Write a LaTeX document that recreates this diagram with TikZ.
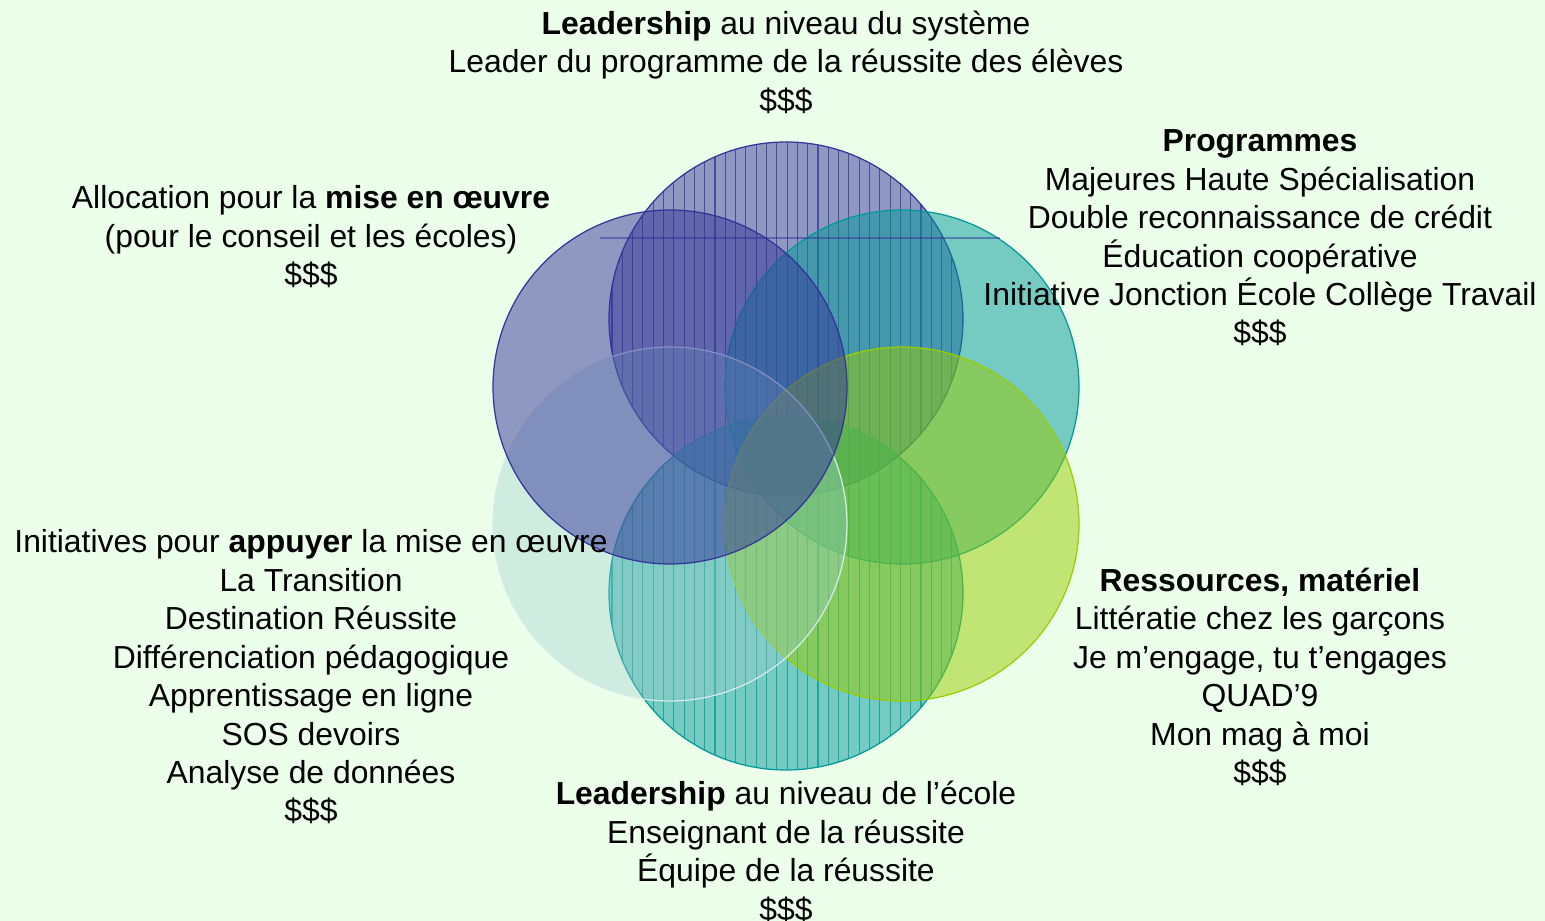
\documentclass[tikz,border=0pt]{standalone}
\usepackage{fontspec}
\setmainfont{Liberation Sans}
\usepackage{tikz}
\usetikzlibrary{positioning}
\definecolor{bgcolor}{RGB}{235,255,235}
\definecolor{blueset}{RGB}{51,51,153}
\definecolor{tealset}{RGB}{0,153,153}
\definecolor{limeset}{RGB}{153,204,0}
\definecolor{paleset}{RGB}{153,204,204}

\begin{document}
\begin{tikzpicture}[x=0.01cm, y=0.01cm,
    blob/.style={fill=#1, fill opacity=0.5, draw=#1, line width=0.35pt},
    stripe/.style={draw=#1, line width=0.3pt, opacity=0.75},
    lbl/.style={align=center, inner sep=0pt, font=\fontsize{9.06}{10.93}\selectfont}]
    \useasboundingbox (0,0) rectangle (1545,921);
    \fill[bgcolor] (0,0) rectangle (1545,921);

    % Circle centres
    \coordinate (ctop) at (786,602);
    \coordinate (cul) at (670,534);
    \coordinate (cur) at (902,534);
    \coordinate (cll) at (670,397);
    \coordinate (clr) at (902,397);
    \coordinate (cbot) at (786,328);

    % Top circle (striped)
    \draw[blob=blueset] (ctop) circle[radius=177];
    \begin{scope}
      \clip (ctop) circle[radius=177];
      \foreach \x in {0,...,34} \draw[stripe=blueset] (612+10.3*\x,420) -- (612+10.3*\x,790);
    \end{scope}

    % Upper right
    \draw[blob=tealset] (cur) circle[radius=177];

    % Bottom circle (striped)
    \draw[blob=tealset] (cbot) circle[radius=177];
    \begin{scope}
      \clip (cbot) circle[radius=177];
      \foreach \x in {0,...,34} \draw[stripe=tealset] (612+10.3*\x,140) -- (612+10.3*\x,510);
    \end{scope}

    % Lower right, lower left, upper left
    \draw[blob=limeset] (clr) circle[radius=177];
    \draw[fill=paleset, fill opacity=0.35, draw=paleset!40!white, line width=0.35pt] (cll) circle[radius=177];
    \draw[blob=blueset] (cul) circle[radius=177];

    % thin rule across the top
    \coordinate (rulew) at (600,683);
    \coordinate (rulee) at (1000,683);
    \draw[blueset, opacity=0.5, line width=0.3pt] (rulew) -- (rulee);

    % Labels
    \node[lbl] (systeme) at (786,859) {\textbf{Leadership} au niveau du système\\
      Leader du programme de la réussite des élèves\\\$\$\$};
    \node[lbl] (programmes) at (1260,683) {\textbf{Programmes}\\
      Majeures Haute Spécialisation\\Double reconnaissance de crédit\\
      Éducation coopérative\\Initiative Jonction École Collège Travail\\\$\$\$};
    \node[lbl] (allocation) at (311,684) {Allocation pour la \textbf{mise en œuvre}\\
      (pour le conseil et les écoles)\\\$\$\$};
    \node[lbl] (initiatives) at (311,244) {Initiatives pour \textbf{appuyer} la mise en œuvre\\
      La Transition\\Destination Réussite\\Différenciation pédagogique\\
      Apprentissage en ligne\\SOS devoirs\\Analyse de données\\\$\$\$};
    \node[lbl] (ressources) at (1260,244) {\textbf{Ressources, matériel}\\
      Littératie chez les garçons\\Je m’engage, tu t’engages\\QUAD’9\\
      Mon mag à moi\\\$\$\$};
    \node[lbl] (ecole) at (786,69) {\textbf{Leadership} au niveau de l’école\\
      Enseignant de la réussite\\Équipe de la réussite\\\$\$\$};
\end{tikzpicture}
\end{document}
